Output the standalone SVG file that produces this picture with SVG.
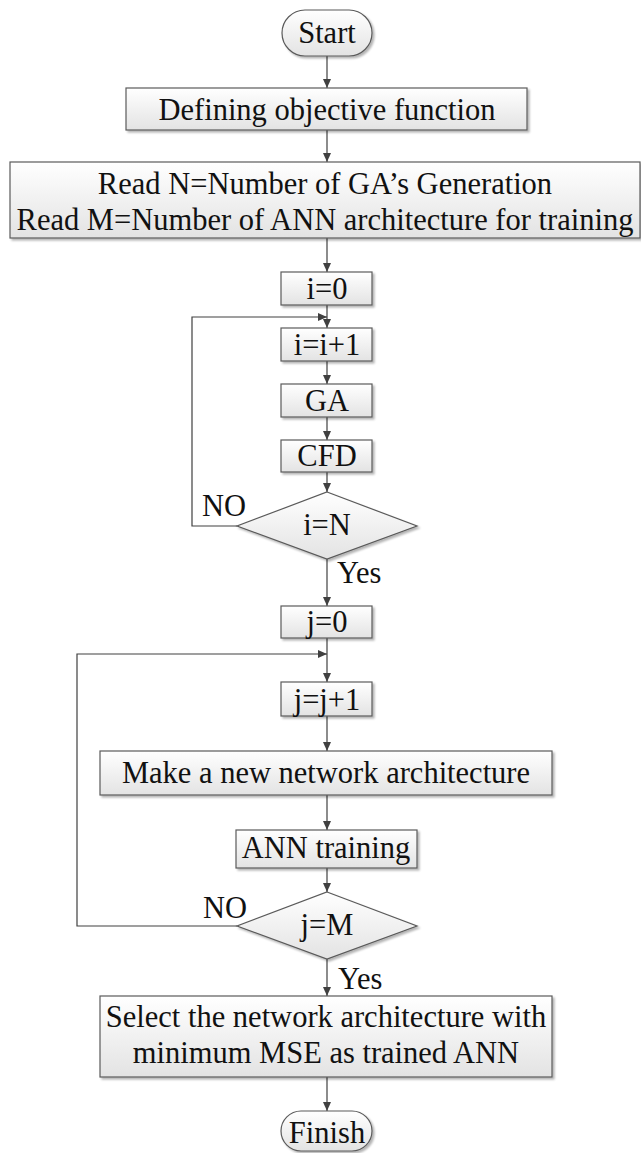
<svg xmlns="http://www.w3.org/2000/svg" width="641" height="1153" viewBox="0 0 641 1153">
<defs>
<linearGradient id="g" x1="0" y1="0" x2="0" y2="1">
<stop offset="0" stop-color="#ffffff"/>
<stop offset="1" stop-color="#e3e3e3"/>
</linearGradient>
<filter id="sh" x="-10%" y="-10%" width="130%" height="140%">
<feGaussianBlur in="SourceAlpha" stdDeviation="1"/>
<feOffset dx="2" dy="2" result="o"/>
<feComponentTransfer><feFuncA type="linear" slope="0.3"/></feComponentTransfer>
<feMerge><feMergeNode/><feMergeNode in="SourceGraphic"/></feMerge>
</filter>
<marker id="ah" markerWidth="10" markerHeight="8" refX="9" refY="4" orient="auto" markerUnits="userSpaceOnUse">
<path d="M0,0 L9,4 L0,8 Z" fill="#404040"/>
</marker>
</defs>
<style>
.b{fill:url(#g);stroke:#5a5a5a;stroke-width:1.2;filter:url(#sh)}
.t{font-family:"Liberation Serif","Times New Roman",serif;font-size:30.5px;fill:#111;text-anchor:middle}
.l{font-family:"Liberation Serif","Times New Roman",serif;font-size:30.5px;fill:#111}
.c{fill:none;stroke:#404040;stroke-width:1.2}
.a{marker-end:url(#ah)}
</style>
<g id="connectors">
<line class="c a" x1="327" y1="56" x2="327" y2="88"/>
<line class="c a" x1="327" y1="130" x2="327" y2="162"/>
<line class="c a" x1="327" y1="238" x2="327" y2="272"/>
<line class="c a" x1="327" y1="305" x2="327" y2="328"/>
<line class="c a" x1="327" y1="361" x2="327" y2="384"/>
<line class="c a" x1="327" y1="417" x2="327" y2="440"/>
<line class="c a" x1="327" y1="472" x2="327" y2="492"/>
<polyline class="c a" points="237,526 192,526 192,317 327,317"/>
<line class="c a" x1="327" y1="559" x2="327" y2="606"/>
<line class="c a" x1="327" y1="638" x2="327" y2="682"/>
<line class="c a" x1="327" y1="716" x2="327" y2="751"/>
<line class="c a" x1="327" y1="795" x2="327" y2="830"/>
<line class="c a" x1="327" y1="868" x2="327" y2="892"/>
<polyline class="c a" points="237,926 77,926 77,654 327,654"/>
<line class="c a" x1="327" y1="959" x2="327" y2="996"/>
<line class="c a" x1="327" y1="1077" x2="327" y2="1111"/>
<text class="l" x="202" y="516">NO</text>
<text class="l" x="337" y="583">Yes</text>
<text class="l" x="203" y="918">NO</text>
<text class="l" x="338" y="989">Yes</text>
</g>
<g id="start"><rect class="b" x="282" y="10" width="90" height="46" rx="23"/><text class="t" x="327" y="43">Start</text></g>
<g id="define"><rect class="b" x="126" y="88" width="401" height="42"/><text class="t" x="327" y="120">Defining objective function</text></g>
<g id="read"><rect class="b" x="10" y="162" width="630" height="76"/><text class="t" x="325" y="194">Read N=Number of GA’s Generation</text><text class="t" x="325" y="230">Read M=Number of ANN architecture for training</text></g>
<g id="i0"><rect class="b" x="281" y="272" width="91" height="33"/><text class="t" x="327" y="299">i=0</text></g>
<g id="iinc"><rect class="b" x="281" y="328" width="91" height="33"/><text class="t" x="327" y="355">i=i+1</text></g>
<g id="ga"><rect class="b" x="281" y="384" width="91" height="33"/><text class="t" x="327" y="411">GA</text></g>
<g id="cfd"><rect class="b" x="281" y="440" width="91" height="32"/><text class="t" x="327" y="466">CFD</text></g>
<g id="dN"><polygon class="b" points="327,492 417,526 327,559 237,526"/><text class="t" x="327" y="535">i=N</text></g>
<g id="j0"><rect class="b" x="281" y="606" width="91" height="32"/><text class="t" x="327" y="632">j=0</text></g>
<g id="jinc"><rect class="b" x="281" y="682" width="91" height="34"/><text class="t" x="327" y="710">j=j+1</text></g>
<g id="make"><rect class="b" x="100" y="751" width="452" height="44"/><text class="t" x="326" y="783">Make a new network architecture</text></g>
<g id="train"><rect class="b" x="236" y="830" width="181" height="38"/><text class="t" x="326" y="858">ANN training</text></g>
<g id="dM"><polygon class="b" points="327,892 417,926 327,959 237,926"/><text class="t" x="327" y="935">j=M</text></g>
<g id="select"><rect class="b" x="100" y="996" width="452" height="81"/><text class="t" x="326" y="1027">Select the network architecture with</text><text class="t" x="326" y="1063">minimum MSE as trained ANN</text></g>
<g id="finish"><rect class="b" x="281" y="1111" width="91" height="40" rx="20"/><text class="t" x="327" y="1143">Finish</text></g>
</svg>
